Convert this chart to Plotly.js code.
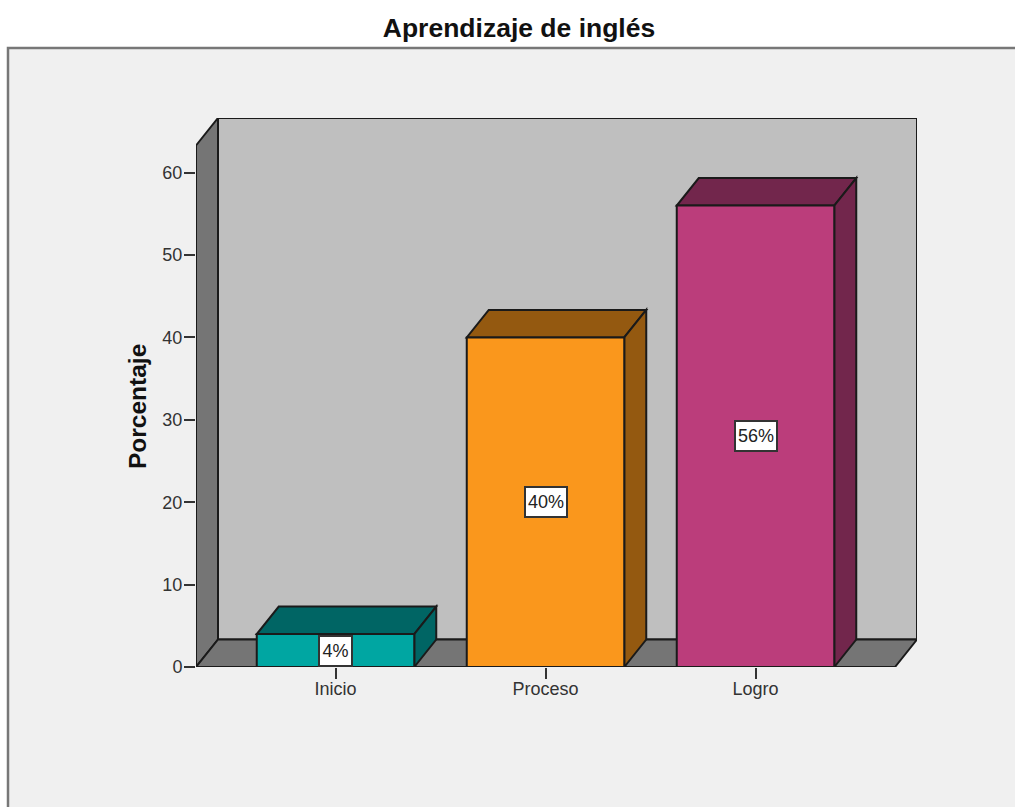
<!DOCTYPE html>
<html><head><meta charset="utf-8">
<script src="https://cdn.plot.ly/plotly-3.0.1.min.js"></script>
<style>html,body{margin:0;padding:0;background:#fff;overflow:hidden}#chart{width:1015px;height:807px}</style>
</head><body><div id="chart"></div>
<script>
const categories = ['Inicio', 'Proceso', 'Logro'];
const values = [4, 40, 56];
const labels = ['4%', '40%', '56%'];
const frontColors = ['#00a6a2', '#fa971c', '#bb3d7b'];
const topColors = ['#006564', '#945910', '#72264c'];
const yTicks = [0, 10, 20, 30, 40, 50, 60];

const pxPerCat = 210, pxPerUnit = 8.24;
const W = 721, H = 549;
const xMin = -139.5 / pxPerCat;
const xMax = xMin + W / pxPerCat;
const yMax = H / pxPerUnit;
const dx = 22 / pxPerCat, dy = 27.5 / pxPerUnit;
const hw = 0.375;
const frontTop = yMax - dy;
const frontRight = xMax - dx;
const fontFam = '"Liberation Sans",Arial,sans-serif';

function poly(pts, fill) {
  return {type:'path', xref:'x', yref:'y', layer:'below',
    path:'M' + pts.map(p => p[0] + ',' + p[1]).join('L') + 'Z',
    fillcolor:fill, line:{color:'#1a1a1a', width:2}};
}
const shapes = [
  {type:'rect', xref:'paper', yref:'paper', layer:'below',
   x0:(8 - 196) / W, x1:(1030 - 196) / W, y0:(667 - 830) / H, y1:(667 - 48) / H,
   fillcolor:'#f0f0f0', line:{color:'#777777', width:2.5}},
  poly([[xMin+dx,dy],[xMax,dy],[xMax,yMax],[xMin+dx,yMax]], '#bfbfbf'),
  poly([[xMin,0],[xMin+dx,dy],[xMin+dx,yMax],[xMin,frontTop]], '#757575'),
  poly([[xMin,0],[frontRight,0],[xMax,dy],[xMin+dx,dy]], '#757575')
];
categories.forEach((c, i) => {
  const v = values[i], l = i - hw, r = i + hw;
  shapes.push(poly([[l,v],[r,v],[r+dx,v+dy],[l+dx,v+dy]], topColors[i]));
  shapes.push(poly([[r,0],[r+dx,dy],[r+dx,v+dy],[r,v]], topColors[i]));
});

const annotations = categories.map((c, i) => ({
  x:i, y:values[i] / 2, xref:'x', yref:'y', text:labels[i], showarrow:false,
  font:{family:fontFam, size:18, color:'#222'},
  bgcolor:'#ffffff', bordercolor:'#333333', borderwidth:2, borderpad:1,
  width: labels[i].length > 2 ? 38 : 29, height:26
}));
annotations.push({
  xref:'paper', yref:'paper', x:(137 - 196) / W, y:(667 - 407) / H, xanchor:'center', yanchor:'middle',
  text:'Porcentaje', textangle:-90, showarrow:false,
  font:{family:fontFam, size:24.5, color:'#111', weight:700}
});

Plotly.newPlot('chart', [{
  type:'bar', x:[0,1,2], y:values, width:hw*2,
  marker:{color:frontColors, line:{color:'#1a1a1a', width:2}},
  hoverinfo:'skip'
}], {
  width:1015, height:807,
  margin:{l:196, r:98, t:118, b:140, pad:0},
  paper_bgcolor:'#ffffff', plot_bgcolor:'rgba(0,0,0,0)',
  showlegend:false, bargap:0,
  title:{text:'Aprendizaje de inglés', x:519/1015, xanchor:'center', y:1-28/807, yanchor:'middle',
    font:{family:fontFam, size:26.5, color:'#111', weight:700}},
  font:{family:fontFam, color:'#333'},
  xaxis:{range:[xMin,xMax], tickmode:'array', tickvals:[0,1,2], ticktext:categories,
    ticks:'outside', ticklen:11, tickwidth:2, tickcolor:'#333', showgrid:false, zeroline:false,
    showline:false, tickfont:{size:18, color:'#333'}, ticklabelstandoff:-6},
  yaxis:{range:[0,yMax], tickmode:'array', tickvals:yTicks, ticktext:yTicks.map(String),
    ticks:'outside', ticklen:11, tickwidth:2, tickcolor:'#333', showgrid:false, zeroline:false,
    showline:false, tickfont:{size:18, color:'#333'}, ticklabelstandoff:-2},
  shapes, annotations
}, {displayModeBar:false, staticPlot:true});
</script></body></html>
